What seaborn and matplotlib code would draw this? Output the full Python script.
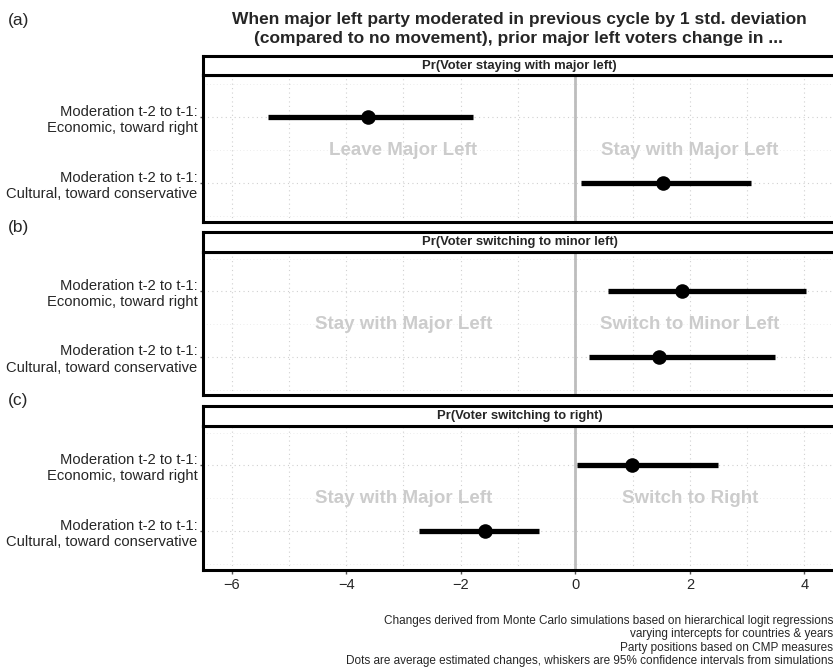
import numpy as np
import pandas as pd
import matplotlib
matplotlib.use('Agg')
import matplotlib.pyplot as plt
import seaborn as sns

# dados
paineis = ['(a)', '(b)', '(c)']
titulos = ['Pr(Voter staying with major left)',
           'Pr(Voter switching to minor left)',
           'Pr(Voter switching to right)']
categorias = ['Moderation t-2 to t-1:\nEconomic, toward right',
              'Moderation t-2 to t-1:\nCultural, toward conservative']
media = [[-3.62, 1.53], [1.86, 1.46], [0.99, -1.57]]
ic_inf = [[-5.36, 0.10], [0.57, 0.23], [0.03, -2.73]]
ic_sup = [[-1.79, 3.06], [4.03, 3.48], [2.49, -0.64]]
rotulo_esq = ['Leave Major Left', 'Stay with Major Left', 'Stay with Major Left']
rotulo_dir = ['Stay with Major Left', 'Switch to Minor Left', 'Switch to Right']

sns.set_style('white')
plt.rcParams['font.family'] = ['Liberation Sans', 'DejaVu Sans']

fig = plt.figure(figsize=(8.33, 6.67), dpi=100)
W, H = 833, 667

def caixa(x0, y0, x1, y1):
    return [x0 / W, 1 - y1 / H, (x1 - x0) / W, (y1 - y0) / H]

# posições (pixels) de faixa e painel
faixas = [(56, 75, 222), (232, 252, 395), (406, 426, 570)]
limites_y = [(1.59, -0.64), (1.58, -0.6), (1.59, -0.6)]
x_esq, x_dir = 203, 836
rotulo_y = [20, 227, 401]

for i in range(3):
    ys, yp, yb = faixas[i]
    df = pd.DataFrame({'cat': categorias, 'media': media[i],
                       'inf': ic_inf[i], 'sup': ic_sup[i], 'pos': [0, 1]})

    ax = fig.add_axes(caixa(x_esq, yp, x_dir, yb))
    ax.set_xlim(-6.5, 4.55)
    ax.set_ylim(*limites_y[i])
    for xv in np.arange(-6, 5, 1):
        ax.axvline(xv, color='#d0d0d0', lw=0.8, ls=(0, (1, 3)), zorder=0)
    for yv in [0, 1]:
        ax.axhline(yv, color='#d0d0d0', lw=0.8, ls=(0, (1, 3)), zorder=0)
    for yv in [-0.5, 0.5, 1.5]:
        ax.axhline(yv, color='#e6e6e6', lw=0.6, ls=(0, (1, 3)), zorder=0)
    ax.axvline(0, color='#bdbdbd', lw=2, zorder=1)

    ax.hlines(df['pos'], df['inf'], df['sup'], color='black', lw=3.8, zorder=3)
    sns.scatterplot(data=df, x='media', y='pos', color='black', s=110,
                    edgecolor='black', linewidth=0, zorder=4, ax=ax, legend=False)

    ax.text(-3, 0.5, rotulo_esq[i], color='#cccccc', fontsize=13.5, fontweight='bold',
            ha='center', va='center', zorder=2)
    ax.text(2, 0.5, rotulo_dir[i], color='#cccccc', fontsize=13.5, fontweight='bold',
            ha='center', va='center', zorder=2)

    ax.set_yticks([0, 1])
    ax.set_yticklabels(df['cat'], fontsize=10.6)
    ax.tick_params(axis='y', length=2, width=1, color='#555555', pad=2, left=True)
    ax.set_xlabel('')
    ax.set_ylabel('')
    if i < 2:
        ax.set_xticks([])
    else:
        ax.set_xticks([-6, -4, -2, 0, 2, 4])
        ax.set_xticklabels(['\u22126', '\u22124', '\u22122', '0', '2', '4'], fontsize=10.5)
        ax.tick_params(axis='x', length=3, width=1, color='#555555', pad=3, bottom=True)
    for s in ax.spines.values():
        s.set_visible(True)
        s.set_color('black')
        s.set_linewidth(2.2)

    # faixa do título do painel
    axs = fig.add_axes(caixa(x_esq, ys, x_dir, yp))
    axs.set_xticks([])
    axs.set_yticks([])
    for s in axs.spines.values():
        s.set_color('black')
        s.set_linewidth(2.2)
    axs.text(0.5, 0.5, titulos[i], ha='center', va='center', fontsize=9.4,
             fontweight='bold', transform=axs.transAxes)

    fig.text(8 / W, 1 - rotulo_y[i] / H, paineis[i], fontsize=12.5, va='center', ha='left')

fig.text(519 / W, 1 - 29 / H,
         'When major left party moderated in previous cycle by 1 std. deviation\n'
         '(compared to no movement), prior major left voters change in ...',
         ha='center', va='center', fontsize=12.5, fontweight='bold', linespacing=1.3)

fig.text(833 / W, 1 - 641 / H,
         'Changes derived from Monte Carlo simulations based on hierarchical logit regressions\n'
         'varying intercepts for countries & years\n'
         'Party positions based on CMP measures\n'
         'Dots are average estimated changes, whiskers are 95% confidence intervals from simulations',
         ha='right', va='center', fontsize=8.5, linespacing=1.15)

fig.savefig('out.png', dpi=100)
